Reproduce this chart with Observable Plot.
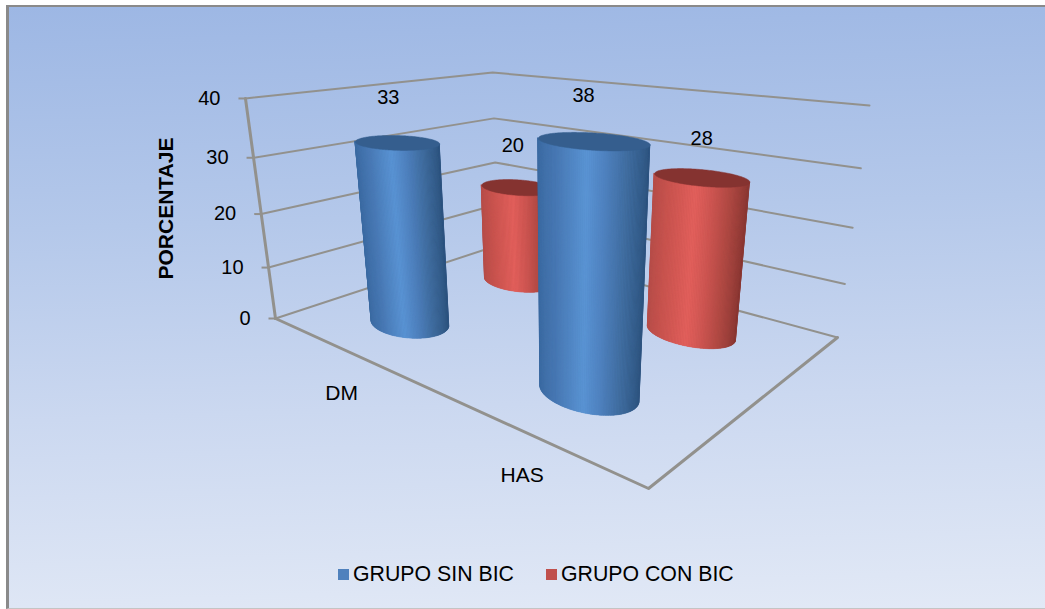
<!DOCTYPE html>
<html lang="es">
<head>
<meta charset="utf-8">
<title>Porcentaje por grupo</title>
<script src="https://cdn.jsdelivr.net/npm/d3@7"></script>
<script src="https://cdn.jsdelivr.net/npm/@observablehq/plot@0.6"></script>
<style>
  html, body { margin: 0; padding: 0; background: #fff; }
  #frame { position: relative; width: 1045px; height: 609px; overflow: hidden;
           font-family: "Liberation Sans", Arial, sans-serif; color: #000; }
  #panel { position: absolute; left: 6px; top: 5px; right: -4px; bottom: 0;
           box-sizing: border-box;
           border-top: 2px solid #8a8a8a; border-left: 3px solid #8a8a8a;
           border-bottom: 1px solid #c4c4c4;
           background: linear-gradient(178deg, #9db7e4 0%, #b4c8ea 35%, #cbd8f0 65%, #e2e9f6 100%); }
  #chart { position: relative; }
  #chart svg { display: block; background: transparent; }
  #legend { position: absolute; left: 338px; top: 562px; display: flex; align-items: center;
            font-size: 21.3px; line-height: 24px; white-space: nowrap; }
  #legend i { display: inline-block; width: 11px; height: 11px; margin-right: 4px; }
  #legend span { margin-right: 32px; }
</style>
</head>
<body>
<div id="frame">
  <div id="panel"></div>
  <div id="chart"></div>
  <div id="legend"></div>
</div>
<script>
// Chart values
const categories = ["DM", "HAS"];
const seriesNames = ["GRUPO SIN BIC", "GRUPO CON BIC"];
const grupoSinBic = [33, 38];
const grupoConBic = [20, 28];
const yTicks = [0, 10, 20, 30, 40];
const yMax = 40;

// Series appearance
const seriesColors = ["#4f81bd", "#c0504d"];
const capColors = ["#355e8e", "#853330"];
const shadeStops = [
  ["#3c6ba2", "#4777b2", "#5a94d4", "#4e80bd", "#3e6a9b", "#2f5580"],
  ["#b64e4a", "#c9544f", "#e2605c", "#cc5551", "#ab4741", "#8a3834"]
];

// Pinhole camera for the 3D box: c runs along the category edge,
// s along the depth edge, z up the value axis (each 0..1).
function project(c, s, z) {
  const w = 1 - 0.3417 * c + 0.287 * s - 0.0966 * z;
  return {
    x: (151.6 * c + 364.6 * s - 53.7 * z + 275) / w,
    y: (3.25 * c - 2.7 * s - 229.5 * z + 318) / w,
    w
  };
}
const slot = (i, n) => (i + 0.5) / n;
const radius = 0.1;
const steps = 180;

const points = [];
[grupoSinBic, grupoConBic].forEach((values, j) => {
  values.forEach((value, i) => {
    points.push({ category: categories[i], series: j, i, j, value,
                  c: slot(i, categories.length), s: slot(j, seriesNames.length) });
  });
});
// Far cylinders are painted first
points.sort((a, b) => project(b.c, b.s, 0).w - project(a.c, a.s, 0).w);

function ring(p, z) {
  return d3.range(steps + 1).map(k => {
    const a = (k / steps) * 2 * Math.PI;
    return project(p.c + radius * Math.cos(a), p.s + radius * Math.sin(a), z);
  });
}

// Indices of the ring arc that faces the viewer, from its left extreme to its right extreme
function frontArc(lo) {
  const left = d3.minIndex(lo.slice(0, steps), d => d.x);
  const right = d3.maxIndex(lo.slice(0, steps), d => d.x);
  const walk = (from, to) => {
    const out = [from];
    while (out[out.length - 1] !== to) out.push((out[out.length - 1] + 1) % steps);
    return out;
  };
  const forward = walk(left, right);
  const backward = walk(right, left).reverse();
  return d3.mean(forward, k => lo[k].y) > d3.mean(backward, k => lo[k].y) ? forward : backward;
}

function cylinderSide(p) {
  const z = p.value / yMax;
  const lo = ring(p, 0), hi = ring(p, z);
  const arc = frontArc(lo);
  const xMin = lo[arc[0]].x, xMax = lo[arc[arc.length - 1]].x;
  const shade = d3.scaleLinear()
    .domain([0, 0.16, 0.44, 0.62, 0.82, 1])
    .range(shadeStops[p.series])
    .clamp(true);
  const wall = arc.map(k => ({ x1: lo[k].x, y1: lo[k].y, x2: hi[k].x, y2: hi[k].y }));
  const strips = d3.pairs(arc).flatMap(([a, b], order) => {
    const color = shade(((lo[a].x + lo[b].x) / 2 - xMin) / (xMax - xMin));
    return [a, b].map(k => ({ order, color, x1: lo[k].x, y1: lo[k].y, x2: hi[k].x, y2: hi[k].y }));
  });
  return { wall, strips };
}

const cylinderMarks = points.flatMap(p => {
  const { wall, strips } = cylinderSide(p);
  return [
    Plot.area(wall, { x1: "x1", y1: "y1", x2: "x2", y2: "y2", fill: seriesColors[p.series] }),
    Plot.area(strips, {
      x1: "x1", y1: "y1", x2: "x2", y2: "y2", z: "order",
      fill: { value: d => d.color, scale: null },
      stroke: { value: d => d.color, scale: null },
      strokeWidth: 0.5
    }),
    Plot.line(ring(p, p.value / yMax), {
      x: "x", y: "y", fill: capColors[p.series], stroke: capColors[p.series], strokeWidth: 0.5
    })
  ];
});

// Gridlines on the two back walls, then the value axis and floor edges
const axisColor = "#92918d";
const gridRows = yTicks.flatMap(t => [[0, 0], [0, 1], [1, 1]].map(([c, s]) => ({
  t, ...project(c, s, t / yMax)
})));
const axisRows = [0, yMax].map(t => project(0, 0, t / yMax));
const floorRows = [[0, 0], [1, 0], [1, 1]].map(([c, s]) => project(c, s, 0));
const tickRows = yTicks.map(t => ({ t, ...project(0, 0, t / yMax) }));

// Small shifts that set each value label clear of its cylinder top
const labelShift = { "DM|0": [-9, -45], "HAS|0": [-9.5, -45.5], "DM|1": [-5, -42], "HAS|1": [0.5, -39] };
const labelRows = points.map(p => {
  const top = project(p.c, p.s, p.value / yMax);
  const [dx, dy] = labelShift[`${p.category}|${p.series}`];
  return { text: String(p.value), x: top.x + dx, y: top.y + dy };
});
const categoryRows = categories.map((name, i) => ({ name, ...project(slot(i, categories.length), 0, 0) }));

const chart = Plot.plot({
  width: 1045,
  height: 609,
  margin: 0,
  x: { type: "linear", domain: [0, 1045], range: [0, 1045], axis: null },
  y: { type: "linear", domain: [0, 609], range: [0, 609], axis: null },
  style: { fontFamily: '"Liberation Sans", Arial, sans-serif', background: "transparent" },
  marks: [
    Plot.line(gridRows, { x: "x", y: "y", z: "t", stroke: axisColor, strokeWidth: 2, curve: "linear" }),
    Plot.link(tickRows, { x1: d => d.x - 7, y1: "y", x2: "x", y2: "y", stroke: axisColor, strokeWidth: 2 }),
    Plot.line(axisRows, { x: "x", y: "y", stroke: axisColor, strokeWidth: 3 }),
    Plot.line(floorRows, { x: "x", y: "y", stroke: axisColor, strokeWidth: 3 }),
    ...cylinderMarks,
    Plot.text(tickRows, { x: "x", y: "y", text: d => String(d.t), dx: -25, textAnchor: "end", fontSize: 20, fill: "#000" }),
    Plot.text(labelRows, { x: "x", y: "y", text: "text", fontSize: 20, fill: "#000" }),
    Plot.text(categoryRows, { x: "x", y: "y", text: "name", dx: -1, dy: 44, fontSize: 21, fill: "#000" }),
    Plot.text(["PORCENTAJE"], {
      x: () => 166, y: () => 208, rotate: -90, fontSize: 21, fontWeight: "bold", fill: "#000"
    })
  ]
});
document.getElementById("chart").appendChild(chart);

// Legend
const legend = document.getElementById("legend");
seriesNames.forEach((name, j) => {
  const swatch = document.createElement("i");
  swatch.style.background = seriesColors[j];
  const label = document.createElement("span");
  label.textContent = name;
  legend.append(swatch, label);
});
</script>
</body>
</html>
